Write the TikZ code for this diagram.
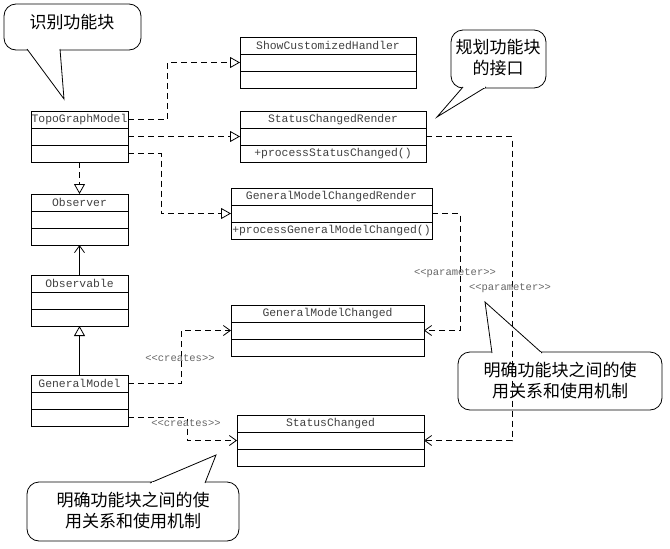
\documentclass[tikz,border=0pt]{standalone}
\usepackage{fontspec}
\newfontfamily\umlfont{Liberation Mono}
\newfontfamily\cjk{Noto Sans CJK SC}
\usetikzlibrary{arrows.meta,positioning}

% one class box: name, x, y, width, title, method
\newcommand\umlclass[6]{%
  \node[cls, minimum width=#4, anchor=north west] (#1) at (#2,#3) {#5};
  \node[cls, minimum width=#4, anchor=north] (#1-a) at (#1.south) {};
  \node[cls, minimum width=#4, anchor=north] (#1-b) at (#1-a.south) {#6};
}

\begin{document}
\begin{tikzpicture}[
    x=1pt, y=-1pt,
    cls/.style={rectangle, draw, line width=0.8pt, minimum height=17pt, inner sep=0pt, outer sep=0pt,
                font=\umlfont\fontsize{11.4}{12}\selectfont, text=black!75},
    realize/.style={dashed, dash pattern=on 6pt off 4pt, line width=0.8pt, -{Triangle[open,length=10pt,width=11pt]}},
    depend/.style={dashed, dash pattern=on 6pt off 4pt, line width=0.8pt, -{Straight Barb[length=7pt,width=10pt]}},
    inherit/.style={line width=0.8pt, -{Triangle[open,length=10pt,width=11pt]}},
    assoc/.style={line width=0.8pt, -{Straight Barb[length=7pt,width=10pt]}},
    stereo/.style={font=\umlfont\fontsize{10.5}{12}\selectfont, text=black!60, inner sep=1pt},
    note/.style={draw, fill=white, line width=0.8pt, rounded corners=12pt},
    notetext/.style={font=\cjk\fontsize{17}{21}\selectfont, align=center}
]
\useasboundingbox (0,0) rectangle (670,549);

% Notes
\draw [note] (4,4) rectangle (141,50);
\draw [line width=0.8pt, fill=white] (27,49) -- (64,99) -- (60,49);
\draw [white, line width=1.5pt] (28.5,49.6) -- (58.5,49.6);
\node [notetext] (n1) at (72,22) {识别功能块};

\draw [note] (451,30) rectangle (546,88);
\draw [line width=0.8pt, fill=white] (463,87) -- (437,117) -- (486,87);
\draw [white, line width=1.5pt] (464.5,87.6) -- (484.5,87.6);
\node [notetext] (n2) at (498,58) {规划功能块\\的接口};

\draw [note] (458,352) rectangle (662,410);
\draw [line width=0.8pt, fill=white] (492,353) -- (485,302) -- (542,353);
\draw [white, line width=1.5pt] (493.5,352.4) -- (540.5,352.4);
\node [notetext] (n3) at (560,381) {明确功能块之间的使\\用关系和使用机制};

\draw [note] (27,482) rectangle (239,541);
\draw [line width=0.8pt, fill=white] (150,483) -- (216,455) -- (205,483);
\draw [white, line width=1.5pt] (152,482.4) -- (203.5,482.4);
\node [notetext] (n4) at (133,511) {明确功能块之间的使\\用关系和使用机制};

% Classes
\umlclass{topo}{31}{111}{97}{TopoGraphModel}{}
\umlclass{obs}{31}{194}{97}{Observer}{}
\umlclass{able}{31}{275}{97}{Observable}{}
\umlclass{gm}{31}{375}{97}{GeneralModel}{}
\umlclass{show}{240}{37}{176}{ShowCustomizedHandler}{}
\umlclass{scr}{240}{111}{186}{StatusChangedRender}{+processStatusChanged()}
\umlclass{gmcr}{231}{188}{201}{GeneralModelChangedRender}{+processGeneralModelChanged()}
\umlclass{gmc}{231}{305}{193}{GeneralModelChanged}{}
\umlclass{sc}{237}{415}{187}{StatusChanged}{}

% Realization
\draw [realize] (topo.east) -- ++(39,0) |- (show-a.west);
\draw [realize] (topo-a.east) -- (scr-a.west);
\draw [realize] (topo-b.east) -- ++(33,0) |- (gmcr-a.west);
\draw [realize] (topo-b.south) -- (obs.north);

% Inheritance and association
\draw [assoc] (able.north) -- (obs-b.south);
\draw [inherit] (gm.north) -- (able-b.south);

% Dependencies
\draw [depend] (gm.east) -- ++(53,0) |- (gmc-a.west);
\node [stereo] (cr1) at (180,358) {<<creates>>};
\draw [depend] (gm-b.east) -- ++(59,0) |- (sc-a.west);
\node [stereo] (cr2) at (186,423) {<<creates>>};
\draw [depend] (gmcr-a.east) -- ++(28,0) |- (gmc-a.east);
\node [stereo] (par1) at (455,273) {<<parameter>>};
\draw [depend] (scr-a.east) -- ++(86,0) |- (sc-a.east);
\node [stereo] (par2) at (510,288) {<<parameter>>};
\end{tikzpicture}
\end{document}
